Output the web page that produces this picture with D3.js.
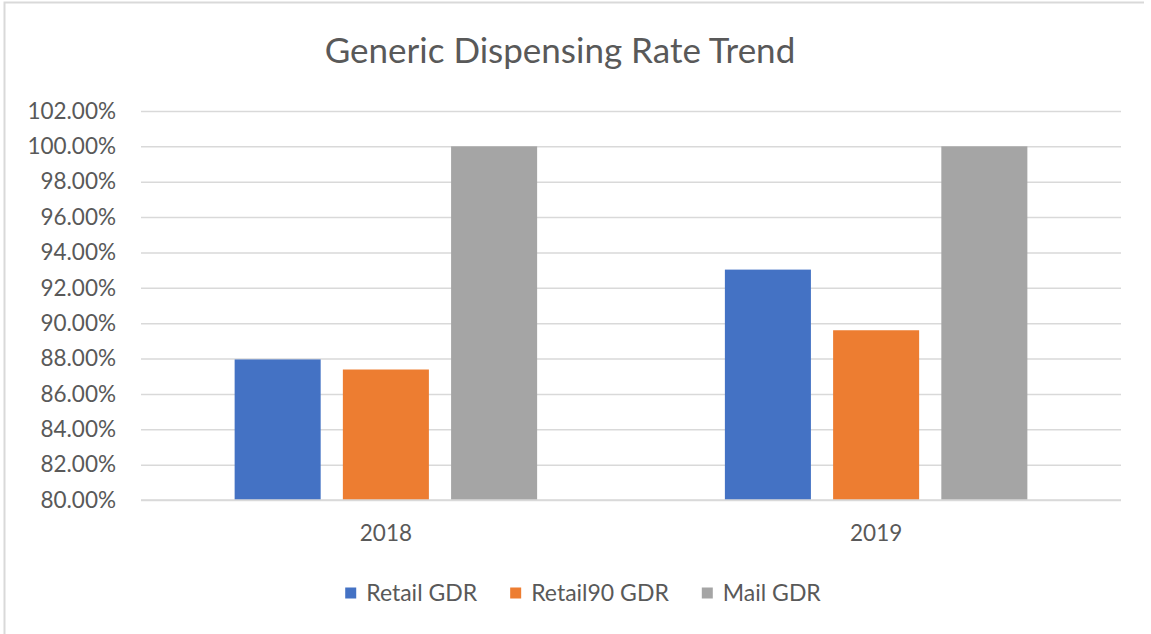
<!DOCTYPE html>
<html><head><meta charset="utf-8">
<script src="https://cdn.jsdelivr.net/npm/d3@7"></script>
<style>body{margin:0;background:#fff;} svg{display:block;} text{font-family:Lato,"Liberation Sans",sans-serif;fill:#595959;}</style>
</head><body>
<script>
const categories = ["2018", "2019"];
const seriesNames = ["Retail GDR", "Retail90 GDR", "Mail GDR"];
const retailGDR = [0.8795, 0.9303];
const retail90GDR = [0.8738, 0.8960];
const mailGDR = [1.0, 1.0];
const yTicks = [0.80,0.82,0.84,0.86,0.88,0.90,0.92,0.94,0.96,0.98,1.00,1.02];
const colors = ["#4472c4", "#ed7d31", "#a5a5a5"];
const title = "Generic Dispensing Rate Trend";

const seriesValues = [retailGDR, retail90GDR, mailGDR];
const W = 1151, H = 634;
const svg = d3.select("body").append("svg").attr("width", W).attr("height", H);

// frame
svg.append("path").attr("d", `M4.5,${H} L4.5,2.5 L1144,2.5`).attr("fill","none").attr("stroke","#d9d9d9").attr("stroke-width",2);

const plotL = 141, plotR = 1121, plotT = 111, plotB = 500;
const y = d3.scaleLinear().domain([0.80, 1.02]).range([plotB, plotT]);
const x0 = d3.scaleBand().domain(categories).range([plotL, plotR]).paddingInner(0.383).paddingOuter(0.191);
const x1 = d3.scaleBand().domain(seriesNames).range([0, x0.bandwidth()]).paddingInner(0.205);

// gridlines
const yAxis = d3.axisLeft(y).tickValues(yTicks).tickSize(-(plotR - plotL)).tickFormat(d3.format(".2%")).tickPadding(25);
const ga = svg.append("g").attr("transform", `translate(${plotL},0)`).call(yAxis);
ga.select(".domain").remove();
ga.selectAll(".tick line").attr("stroke", "#d9d9d9").attr("stroke-width", 1.5);
ga.selectAll(".tick text").attr("font-size", 22.5).attr("fill", "#595959").attr("font-family", "Lato");

// bars
const rows = categories.map((c, i) => ({c, vals: seriesNames.map((s, j) => ({s, j, v: seriesValues[j][i]}))}));
const grp = svg.append("g").selectAll("g").data(rows).join("g").attr("transform", d => `translate(${x0(d.c)},0)`);
grp.selectAll("rect").data(d => d.vals).join("rect")
  .attr("x", d => x1(d.s)).attr("width", x1.bandwidth())
  .attr("y", d => y(d.v)).attr("height", d => y(0.80) - y(d.v))
  .attr("fill", d => colors[d.j]);

// redraw baseline gridline on top
svg.append("line").attr("x1", plotL).attr("x2", plotR).attr("y1", y(0.80)).attr("y2", y(0.80)).attr("stroke", "#d9d9d9").attr("stroke-width", 1.5);

// x axis labels
const xAxis = d3.axisBottom(x0).tickSize(0).tickPadding(25);
const gx = svg.append("g").attr("transform", `translate(0,${plotB})`).call(xAxis);
gx.select(".domain").remove();
gx.selectAll(".tick text").attr("font-size", 22.5).attr("fill", "#595959").attr("font-family", "Lato");

// title
svg.append("text").attr("x", 560).attr("y", 63).attr("text-anchor", "middle").attr("font-size", 35).text(title);

// legend
const lg = svg.append("g");
const items = lg.selectAll("g").data(seriesNames).join("g");
items.append("rect").attr("width", 11).attr("height", 11).attr("y", -5.5).attr("fill", (d, i) => colors[i]);
items.append("text").attr("x", 21).attr("dy", "0.36em").attr("font-size", 23).text(d => d);
let xpos = 0; const positions = [];
items.each(function(d) {
  const w = d3.select(this).select("text").node().getComputedTextLength();
  positions.push(xpos); xpos += 21 + w + 33;
});
const total = xpos - 33;
const startX = 583 - total / 2;
items.attr("transform", (d, i) => `translate(${startX + positions[i]},593)`);
</script>
</body></html>
